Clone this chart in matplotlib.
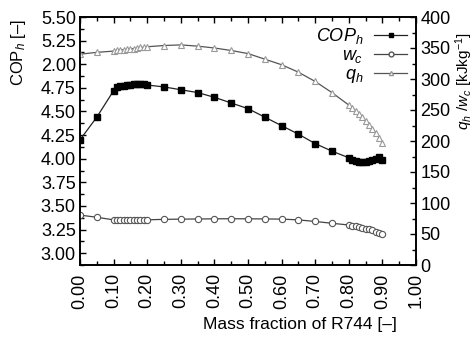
import matplotlib
matplotlib.use("Agg")
import matplotlib.pyplot as plt
from matplotlib.ticker import MultipleLocator, FixedLocator
from matplotlib.lines import Line2D

plt.rcParams['font.family'] = ['Liberation Sans', 'DejaVu Sans']
plt.rcParams['mathtext.fontset'] = 'custom'
plt.rcParams['mathtext.rm'] = 'Liberation Sans'
plt.rcParams['mathtext.it'] = 'Liberation Sans:italic'

# mass fraction of R744
x = [0.00, 0.05, 0.10, 0.11, 0.12, 0.13, 0.14, 0.15, 0.16, 0.17, 0.18, 0.19, 0.20,
     0.25, 0.30, 0.35, 0.40, 0.45, 0.50, 0.55, 0.60, 0.65, 0.70, 0.75,
     0.80, 0.81, 0.82, 0.83, 0.84, 0.85, 0.86, 0.87, 0.88, 0.89, 0.90]

cop_h = [4.20, 4.44, 4.72, 4.76, 4.77, 4.77, 4.78, 4.78, 4.79, 4.79, 4.79, 4.79, 4.78,
         4.76, 4.73, 4.70, 4.65, 4.59, 4.53, 4.44, 4.35, 4.26, 4.16, 4.08,
         4.01, 3.99, 3.98, 3.97, 3.97, 3.97, 3.98, 3.99, 4.00, 4.02, 3.99]

w_c = [80.5, 77.0, 72.8, 72.6, 72.6, 72.6, 72.6, 72.6, 72.6, 72.6, 72.7, 72.8, 72.9,
       73.6, 74.0, 74.2, 74.5, 74.6, 74.5, 74.3, 74.0, 72.8, 70.2, 67.3,
       64.5, 63.5, 62.5, 61.5, 60.2, 58.8, 57.3, 55.7, 53.8, 51.7, 49.5]

q_h = [340, 343, 345, 346, 347, 347, 348, 349, 349, 350, 351, 351, 352,
       354, 355, 353, 350, 346, 341, 332, 323, 311, 296, 278,
       258, 254, 249, 244, 238, 232, 226, 220, 213, 205, 197]

left_ticks = [3.00, 3.25, 3.50, 3.75, 4.00, 4.25, 4.50, 4.75, 5.00, 5.25, 5.50]
left_labels = ['3.00', '3.25', '3.50', '3.75', '4.00', '4.25', '4.50', '4.75', '2.00', '5.25', '5.50']
x_ticks = [0.0, 0.1, 0.2, 0.3, 0.4, 0.5, 0.6, 0.7, 0.8, 0.9, 1.0]
x_labels = ['0.00', '0.10', '0.20', '0.30', '0.40', '0.50', '0.60', '0.70', '0.80', '0.90', '1.00']

fig = plt.figure(figsize=(4.76, 3.38), dpi=100)
ax = fig.add_axes([80/476, 73/338, 336/476, 248/338])
ax2 = ax.twinx()

ax.plot(x, cop_h, '-', color='#222222', lw=0.9, marker='s', ms=4,
        mfc='black', mec='black', zorder=3)
ax2.plot(x, w_c, '-', color='#444444', lw=0.9, marker='o', ms=4.5,
         mfc='white', mec='#555555', mew=0.8)
ax2.plot(x, q_h, '-', color='#555555', lw=0.9, marker='^', ms=4,
         mfc='white', mec='#999999', mew=0.8)

ax.set_xlim(0, 1.0)
ax.set_ylim(2.875, 5.5)
ax2.set_ylim(0, 400)

ax.xaxis.set_major_locator(FixedLocator(x_ticks))
ax.set_xticklabels(x_labels, rotation=90)
ax.xaxis.set_minor_locator(MultipleLocator(0.05))
ax.yaxis.set_major_locator(FixedLocator(left_ticks))
ax.set_yticklabels(left_labels)
ax.yaxis.set_minor_locator(MultipleLocator(0.125))
ax2.yaxis.set_major_locator(MultipleLocator(50))
ax2.yaxis.set_minor_locator(MultipleLocator(25))

ax.tick_params(which='both', direction='in', top=True, labelsize=13, width=1, pad=3)
ax.tick_params(which='major', length=4)
ax.tick_params(which='minor', length=3)
ax.tick_params(axis='x', pad=6)
ax2.tick_params(which='both', direction='in', labelsize=13, width=1, pad=3)
ax2.tick_params(which='major', length=4)
ax2.tick_params(which='minor', length=3)
for a in (ax, ax2):
    for s in a.spines.values():
        s.set_linewidth(1.2)

ax.set_xlabel('Mass fraction of R744 [–]', fontsize=12.5)
ax.xaxis.set_label_coords(0.655, -0.21)
ax.set_ylabel('COP$_h$ [–]', fontsize=12)
ax.yaxis.set_label_coords(-0.155, 0.855)
ax2.set_ylabel('$q_h$ /$w_c$ [kJkg$^{-1}$]', fontsize=11, rotation=90)
ax2.yaxis.set_label_coords(1.112, 0.74)

handles = [
    Line2D([], [], color='#222222', lw=0.9, marker='s', ms=3, mfc='black', mec='black'),
    Line2D([], [], color='#444444', lw=0.9, marker='o', ms=3.5, mfc='white', mec='#555555'),
    Line2D([], [], color='#555555', lw=0.9, marker='^', ms=3, mfc='white', mec='#999999'),
]
ax2.legend(handles, ['$COP_h$', '$w_c$', '$q_h$'], loc='upper right', frameon=False,
           markerfirst=False, fontsize=13, handlelength=1.8, labelspacing=0.05,
           borderpad=0.1, borderaxespad=0.4, handletextpad=0.6)

fig.savefig('out.png', dpi=100)
